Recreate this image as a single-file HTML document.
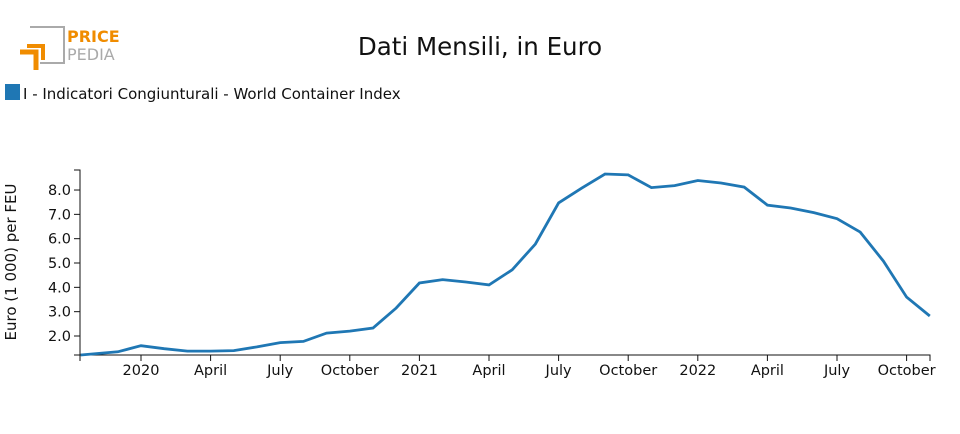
<!DOCTYPE html>
<html><head><meta charset="utf-8"><style>
body{margin:0;background:#fff;font-family:"DejaVu Sans","Liberation Sans",sans-serif;}
</style></head><body>
<svg width="960" height="430" xmlns="http://www.w3.org/2000/svg" font-family="DejaVu Sans, Liberation Sans, sans-serif">
<g>
<path d="M30 27 H64 V63 H40" fill="none" stroke="#aaa" stroke-width="2"/>
<path d="M20 52 H36 V70" fill="none" stroke="#f08c00" stroke-width="5"/>
<path d="M27 46 H43 V60" fill="none" stroke="#f08c00" stroke-width="4"/>
<text x="67" y="42" font-size="16" font-weight="bold" fill="#f08c00">PRICE</text>
<text x="67" y="60" font-size="16" fill="#aaa">PEDIA</text>
</g>
<text x="480" y="55" text-anchor="middle" font-size="24.5" fill="#111">Dati Mensili, in Euro</text>
<rect x="5" y="84" width="15" height="16" fill="#1f77b4"/>
<text x="23" y="99" font-size="15" fill="#111">I - Indicatori Congiunturali - World Container Index</text>
<text transform="translate(16,262) rotate(-90)" text-anchor="middle" font-size="15" fill="#111">Euro (1 000) per FEU</text>
<g id="axes"></g>
<path id="line" fill="none" stroke="#1f77b4" stroke-width="2.8"/>
</svg>
<script>
const months=[-2.6,-1,0,1,2,3,4,5,6,7,8,9,10,11,12,13,14,15,16,17,18,19,20,21,22,23,24,25,26,27,28,29,30,31,32,33,34];
const values=[1.22,1.35,1.6,1.48,1.38,1.38,1.4,1.55,1.73,1.78,2.12,2.2,2.33,3.15,4.18,4.32,4.22,4.1,4.72,5.78,7.47,8.08,8.66,8.62,8.1,8.18,8.39,8.29,8.12,7.38,7.26,7.07,6.82,6.27,5.08,3.6,2.82];
const yTicks=[2,3,4,5,6,7,8];
const xTickMonths=[0,3,6,9,12,15,18,21,24,27,30,33];
const xTickLabels=["2020","April","July","October","2021","April","July","October","2022","April","July","October"];
const X=m=>141+m*23.2, Y=v=>336-(v-2)*24.33;
const ns="http://www.w3.org/2000/svg", ax=document.getElementById('axes');
function mk(t,a,p){const e=document.createElementNS(ns,t);for(const k in a)e.setAttribute(k,a[k]);(p||ax).appendChild(e);return e;}
const ya=mk('path',{d:'M74 170 H80 V355 H74',fill:'none',stroke:'#111'});


const xa=mk('path',{d:'M80 361 V355 H930 V361',fill:'none',stroke:'#111'});


yTicks.forEach(v=>{const y=Y(v);mk('line',{x1:74,x2:80,y1:y,y2:y,stroke:'#111'});
const t=mk('text',{x:71,y:y+5,'text-anchor':'end','font-size':14.5,fill:'#111'});t.textContent=v.toFixed(1);

});
xTickMonths.forEach((m,i)=>{const x=X(m);mk('line',{x1:x,x2:x,y1:355,y2:361,stroke:'#111'});
const t=mk('text',{x:x,y:375,'text-anchor':'middle','font-size':14.5,fill:'#111'});t.textContent=xTickLabels[i];

});
document.getElementById('line').setAttribute('d',months.map((m,i)=>(i?'L':'M')+X(m).toFixed(1)+' '+Y(values[i]).toFixed(1)).join(' '));
</script>
</body></html>
